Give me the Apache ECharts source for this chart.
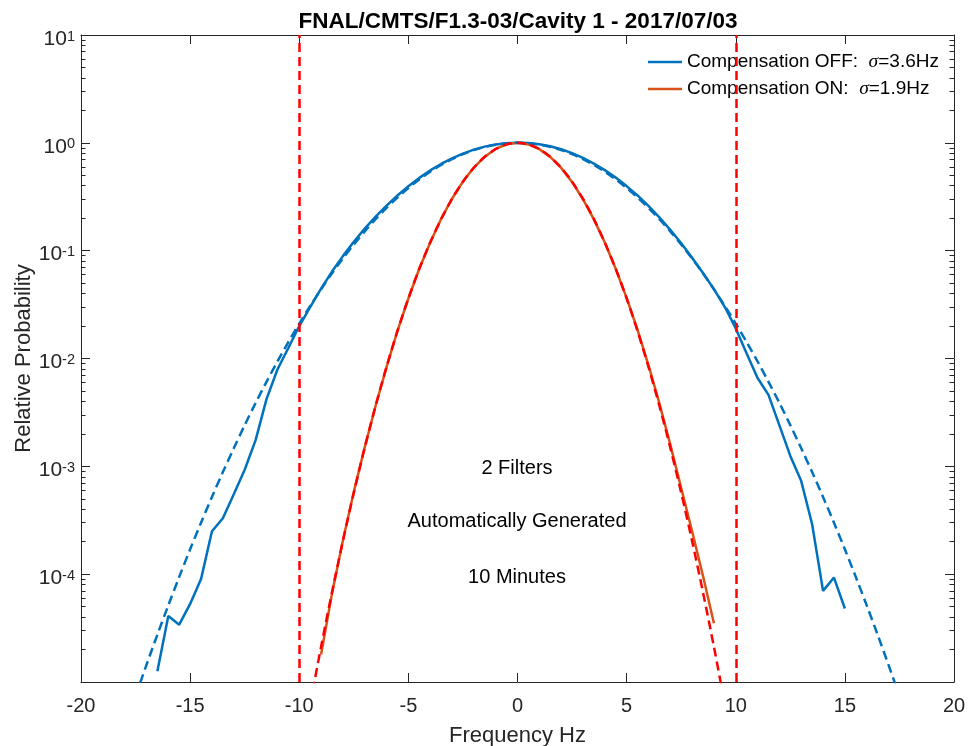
<!DOCTYPE html>
<html>
<head>
<meta charset="utf-8">
<script src="https://cdn.jsdelivr.net/npm/echarts@6/dist/echarts.min.js"></script>
<style>
html,body{margin:0;padding:0;background:#fff;}
#chart{width:968px;height:746px;}
</style>
</head>
<body>
<div id="chart"></div>
<script>
// ---------------- data ----------------
const titleText = 'FNAL/CMTS/F1.3-03/Cavity 1 - 2017/07/03';
const xAxisTitle = 'Frequency Hz';
const yAxisTitle = 'Relative Probability';
const xTickMin = -20, xTickMax = 20, xTickStep = 5;
const yMin = 1e-5, yMax = 10;

const legendNames = ['Compensation OFF:  \u03c3=3.6Hz', 'Compensation ON:  \u03c3=1.9Hz'];

// Compensation OFF, measured histogram
const offFreq = [-16.5,-16,-15.5,-15,-14.5,-14,-13.5,-13,-12.5,-12,-11.5,-11,-10.5,-10,
  -9.5,-9,-8.5,-8,-7.5,-7,-6.5,-6,-5.5,-5,-4.5,-4,-3.5,-3,-2.5,-2,-1.5,-1,-0.5,0,
  0.5,1,1.5,2,2.5,3,3.5,4,4.5,5,5.5,6,6.5,7,7.5,8,8.5,9,9.5,
  10,10.5,11,11.5,12,12.5,13,13.5,14,14.5,15];
const offProb = [1.26e-5,4.1e-5,3.4e-5,5.3e-5,9.0e-5,2.5e-4,3.3e-4,5.5e-4,9.3e-4,1.75e-3,4.2e-3,7.9e-3,1.25e-2,2.0e-2,
  0.0300,0.0445,0.0640,0.0890,0.121,0.160,0.207,0.262,0.325,0.396,0.473,0.555,0.637,0.718,0.795,0.864,0.922,0.965,0.992,1.0,
  0.995,0.972,0.930,0.872,0.802,0.724,0.642,0.558,0.476,0.397,0.325,0.260,0.204,0.156,0.117,0.0860,0.0620,0.0440,0.0300,
  0.0190,0.0111,0.0066,0.0046,0.0024,0.00125,0.00073,0.00029,0.000070,0.000093,0.000048];

// Compensation OFF, fitted curve (dashed)
const offFitFreq = [-17.5,-17,-16.5,-16,-15.5,-15,-14.5,-14,-13.5,-13,-12.5,-12,-11.5,-11,-10.5,-10,
  -9.5,-9,-8.5,-8,-7.5,-7,-6.5,-6,-5.5,-5,-4.5,-4,-3.5,-3,-2.5,-2,-1.5,-1,-0.5,0,
  0.5,1,1.5,2,2.5,3,3.5,4,4.5,5,5.5,6,6.5,7,7.5,8,8.5,9,9.5,
  10,10.5,11,11.5,12,12.5,13,13.5,14,14.5,15,15.5,16,16.5,17,17.5];
const offFitProb = [7.4e-6,1.44e-5,2.75e-5,5.14e-5,9.43e-5,1.70e-4,3.00e-4,5.20e-4,8.84e-4,1.47e-3,2.41e-3,3.87e-3,6.08e-3,9.38e-3,0.0142,0.0211,
  0.0307,0.0439,0.0616,0.0847,0.114,0.151,0.196,0.249,0.311,0.381,0.458,0.539,0.623,0.707,0.786,0.857,0.917,0.962,0.990,1.0,
  0.990,0.962,0.917,0.857,0.786,0.707,0.623,0.539,0.458,0.381,0.311,0.249,0.196,0.151,0.114,0.0847,0.0616,0.0439,0.0307,
  0.0211,0.0142,9.38e-3,6.08e-3,3.87e-3,2.41e-3,1.47e-3,8.84e-4,5.20e-4,3.00e-4,1.70e-4,9.43e-5,5.14e-5,2.75e-5,1.44e-5,7.4e-6];

// Compensation ON, measured histogram
const onFreq = [-9,-8.5,-8,-7.5,-7,-6.5,-6,-5.5,-5,-4.5,-4,-3.5,-3,-2.5,-2,-1.5,-1,-0.5,0,
  0.5,1,1.5,2,2.5,3,3.5,4,4.5,5,5.5,6,6.5,7,7.5,8,8.5,9];
const onProb = [1.8e-5,6.6e-5,2.05e-4,5.8e-4,1.5e-3,3.65e-3,8.3e-3,0.0180,0.0360,0.0680,0.119,0.197,0.303,0.437,0.590,0.744,0.878,0.968,1.0,
  0.966,0.874,0.740,0.586,0.434,0.300,0.195,0.119,0.0680,0.0365,0.0184,0.0087,0.00385,0.00160,0.00063,0.00025,9.6e-5,3.5e-5];

// Compensation ON, fitted curve (dashed)
const onFitFreq = [-9.5,-9,-8.5,-8,-7.5,-7,-6.5,-6,-5.5,-5,-4.5,-4,-3.5,-3,-2.5,-2,-1.5,-1,-0.5,0,
  0.5,1,1.5,2,2.5,3,3.5,4,4.5,5,5.5,6,6.5,7,7.5,8,8.5,9,9.5];
const onFitProb = [6.2e-6,2.12e-5,6.78e-5,2.03e-4,5.69e-4,1.49e-3,3.65e-3,8.37e-3,0.0180,0.0361,0.0679,0.119,0.196,0.302,0.436,0.588,0.742,0.876,0.967,1.0,
  0.967,0.876,0.742,0.588,0.436,0.302,0.196,0.119,0.0679,0.0361,0.0180,8.37e-3,3.65e-3,1.49e-3,5.69e-4,2.03e-4,6.78e-5,2.12e-5,6.2e-6];

// vertical limit lines
const limitLines = [-10, 10];

// annotation texts
const notes = ['2 Filters', 'Automatically Generated', '10 Minutes'];

// ---------------- chart ----------------
const FONT = '"Liberation Sans", Arial, Helvetica, sans-serif';
const AX = '#262626';
const BLUE = '#0072BD', ORANGE = '#D95319', RED = '#FF0000';
const pairs = (xs, ys) => xs.map((x, i) => [x, ys[i]]);

const chart = echarts.init(document.getElementById('chart'), null, {renderer: 'canvas'});

const xCommon = {
  type: 'value', min: xTickMin, max: xTickMax, interval: xTickStep,
  axisLine: {show: true, onZero: false, lineStyle: {color: AX, width: 1}},
  axisTick: {show: true, inside: true, length: 9, lineStyle: {color: AX, width: 1}},
  splitLine: {show: false}
};
const yCommon = {
  type: 'log', logBase: 10, min: yMin, max: yMax,
  axisLine: {show: true, onZero: false, lineStyle: {color: AX, width: 1}},
  axisTick: {show: true, inside: true, length: 9, lineStyle: {color: AX, width: 1}},
  minorTick: {show: true, splitNumber: 9, length: 4.5, lineStyle: {color: AX, width: 1}},
  splitLine: {show: false},
  minorSplitLine: {show: false}
};

const option = {
  animation: false,
  backgroundColor: '#ffffff',
  title: {
    text: titleText, left: 513, top: 5, textAlign: 'center',
    textStyle: {fontFamily: FONT, fontSize: 22.5, fontWeight: 'bold', color: '#000'}
  },
  grid: {left: 81, right: 14, top: 35, bottom: 64, containLabel: false, outerBoundsMode: 'none'},
  legend: {
    orient: 'vertical', left: 648, top: 52, padding: 0, itemGap: 7,
    itemWidth: 34, itemHeight: 2.5, icon: 'rect', z: 1,
    data: legendNames,
    formatter: function (name) {
      const parts = name.split('\u03c3');
      return '{n|' + parts[0] + '}{s|\u03c3}{n|' + parts[1] + '}';
    },
    textStyle: {
      color: '#000', fontFamily: FONT, fontSize: 19, lineHeight: 20,
      rich: {
        n: {fontFamily: FONT, fontSize: 19, color: '#000', lineHeight: 20},
        s: {fontFamily: '"Liberation Serif", "DejaVu Serif", serif', fontStyle: 'italic', fontSize: 19.5, color: '#000', lineHeight: 20}
      }
    }
  },
  xAxis: [
    Object.assign({}, xCommon, {
      position: 'bottom',
      name: xAxisTitle, nameLocation: 'middle', nameGap: 43, nameMoveOverlap: false,
      nameTextStyle: {fontFamily: FONT, fontSize: 22, color: AX},
      axisLabel: {show: true, margin: 14, fontFamily: FONT, fontSize: 20, color: AX, lineHeight: 20}
    }),
    Object.assign({}, xCommon, {position: 'top', axisLabel: {show: false}})
  ],
  yAxis: [
    Object.assign({}, yCommon, {
      position: 'left',
      name: yAxisTitle, nameLocation: 'middle', nameGap: 46, nameRotate: 90, nameMoveOverlap: false,
      nameTextStyle: {fontFamily: FONT, fontSize: 22, color: AX},
      axisLabel: {
        show: true, margin: 6,
        formatter: function (v) {
          const e = Math.round(Math.log10(v));
          if (e === -5) return '';
          return '{b|10}{e|' + e + '}';
        },
        rich: {
          b: {fontFamily: FONT, fontSize: 21, color: AX, lineHeight: 20, padding: [8, 0, 0, 0]},
          e: {fontFamily: FONT, fontSize: 14.5, color: AX, lineHeight: 14, verticalAlign: 'top', padding: [4, 0, 0, 0]}
        }
      }
    }),
    Object.assign({}, yCommon, {position: 'right', axisLabel: {show: false}})
  ],
  series: [
    {
      name: legendNames[0], type: 'line', xAxisIndex: 0, yAxisIndex: 0,
      data: pairs(offFreq, offProb), symbol: 'none', clip: true, z: 3,
      lineStyle: {color: BLUE, width: 2.5}, itemStyle: {color: BLUE}
    },
    {
      name: legendNames[1], type: 'line', xAxisIndex: 0, yAxisIndex: 0,
      data: pairs(onFreq, onProb), symbol: 'none', clip: true, z: 3,
      lineStyle: {color: ORANGE, width: 2.5}, itemStyle: {color: ORANGE}
    },
    {
      name: 'offFit', type: 'line', xAxisIndex: 0, yAxisIndex: 0,
      data: pairs(offFitFreq, offFitProb), symbol: 'none', clip: true, smooth: 0.3, z: 4,
      lineStyle: {color: BLUE, width: 2.5, type: [9, 5]}, itemStyle: {color: BLUE}
    },
    {
      name: 'onFit', type: 'line', xAxisIndex: 0, yAxisIndex: 0,
      data: pairs(onFitFreq, onFitProb), symbol: 'none', clip: true, smooth: 0.3, z: 4,
      lineStyle: {color: RED, width: 2.5, type: [9, 5]}, itemStyle: {color: RED}
    },
    {
      name: 'limits', type: 'line', xAxisIndex: 0, yAxisIndex: 0, data: [], z: 6,
      markLine: {
        silent: true, symbol: ['none', 'none'], animation: false,
        label: {show: false},
        lineStyle: {color: RED, width: 2.5, type: [9, 5]},
        data: limitLines.map(v => ({xAxis: v}))
      }
    }
  ],
  graphic: notes.map((t, i) => ({
    type: 'text', x: 517, y: [468, 521, 577][i], z: 10,
    style: {text: t, font: '20px ' + FONT, fill: '#000', textAlign: 'center', textVerticalAlign: 'middle'}
  }))
};

chart.setOption(option);
</script>
</body>
</html>
